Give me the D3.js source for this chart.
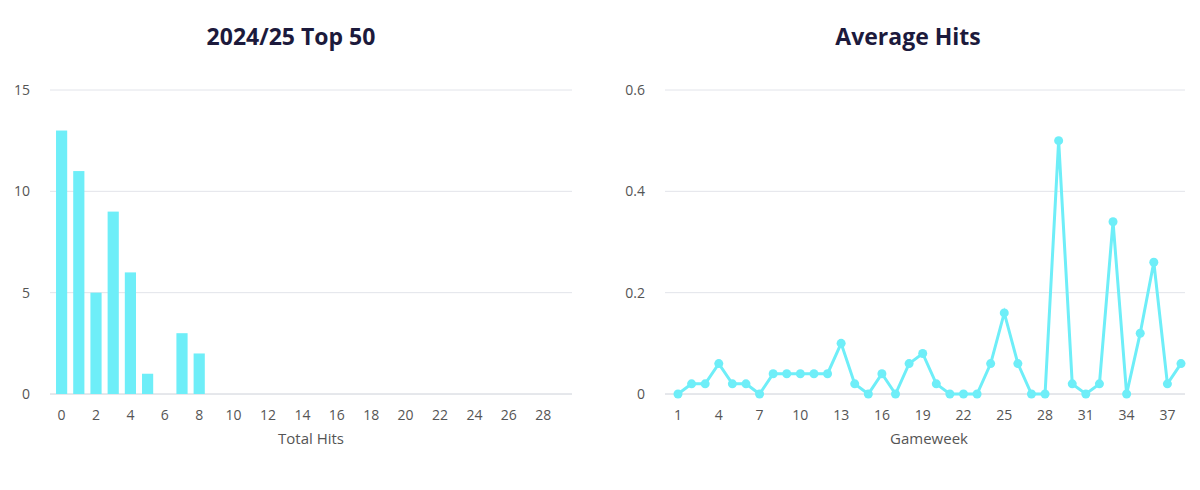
<!DOCTYPE html>
<html><head><meta charset="utf-8">
<script src="https://cdn.jsdelivr.net/npm/d3@7"></script>
<style>body{margin:0;background:#fff;font-family:"Open Sans",sans-serif}</style>
</head><body>
<svg id="c" width="1200" height="490"></svg>
<script>
// total hits histogram (count of managers per hit total)
const hitTotals = d3.range(0, 30);
const managerCounts = [13, 11, 5, 9, 6, 1, 0, 3, 2, 0, 0, 0, 0, 0, 0, 0, 0, 0, 0, 0, 0, 0, 0, 0, 0, 0, 0, 0, 0, 0];
const gameweeks = d3.range(1, 39);
const avgHits = [0, 0.02, 0.02, 0.06, 0.02, 0.02, 0, 0.04, 0.04, 0.04, 0.04, 0.04, 0.1, 0.02, 0, 0.04, 0, 0.06, 0.08, 0.02,
  0, 0, 0, 0.06, 0.16, 0.06, 0, 0, 0.5, 0.02, 0, 0.02, 0.34, 0, 0.12, 0.26, 0.02, 0.06];

const svg = d3.select("#c");
const col = "#6eeef8", grid = "#e2e4ea", txt = "#555", title = "#1c1a3c";

function frame(g, y, ticks, fmt) {
  g.append("g").selectAll("line").data(ticks).join("line")
    .attr("x1", 0).attr("x2", w => 0).attr("class", "g");
}

// left chart
const x1 = d3.scaleBand().domain(hitTotals).range([50, 572]).padding(0.35);
const y1 = d3.scaleLinear().domain([0, 15]).range([394, 90]);
const x2 = d3.scalePoint().domain(gameweeks).range([678, 1181]);
const y2 = d3.scaleLinear().domain([0, 0.6]).range([394, 90]);

function axes(x0, x1r, y, ticks, fmt) {
  const g = svg.append("g");
  g.selectAll("line").data(ticks).join("line")
    .attr("x1", x0).attr("x2", x1r).attr("y1", d => y(d)).attr("y2", d => y(d))
    .attr("stroke", d => d === 0 ? "#ccd0d8" : grid);
  g.selectAll("text").data(ticks).join("text")
    .attr("x", x0 - 20).attr("y", d => y(d) + 5).attr("text-anchor", "end")
    .attr("font-size", 14).attr("fill", txt).text(fmt);
}
axes(50, 572, y1, [0, 5, 10, 15], d => d);
axes(665, 1185, y2, [0, 0.2, 0.4, 0.6], d => d === 0 ? "0" : d);

svg.append("g").selectAll("rect").data(hitTotals).join("rect")
  .attr("x", d => x1(d)).attr("width", x1.bandwidth())
  .attr("y", (d, i) => y1(managerCounts[i])).attr("height", (d, i) => 394 - y1(managerCounts[i]))
  .attr("fill", col);

svg.append("g").selectAll("text").data(hitTotals.filter(d => d % 2 === 0)).join("text")
  .attr("x", d => x1(d) + x1.bandwidth() / 2).attr("y", 420).attr("text-anchor", "middle")
  .attr("font-size", 14).attr("fill", txt).text(d => d);

svg.append("g").selectAll("text").data(gameweeks.filter(d => (d - 1) % 3 === 0)).join("text")
  .attr("x", d => x2(d)).attr("y", 420).attr("text-anchor", "middle")
  .attr("font-size", 14).attr("fill", txt).text(d => d);

const pts = gameweeks.map((g, i) => [x2(g), y2(avgHits[i])]);
svg.append("path").attr("d", d3.line()(pts)).attr("fill", "none").attr("stroke", col).attr("stroke-width", 3);
svg.append("g").selectAll("circle").data(pts).join("circle")
  .attr("cx", d => d[0]).attr("cy", d => d[1]).attr("r", 4.5).attr("fill", col);

svg.append("text").attr("x", 311).attr("y", 444).attr("text-anchor", "middle")
  .attr("font-size", 15).attr("fill", txt).text("Total Hits");
svg.append("text").attr("x", 929).attr("y", 444).attr("text-anchor", "middle")
  .attr("font-size", 15).attr("fill", txt).text("Gameweek");

svg.append("text").attr("x", 291).attr("y", 45).attr("text-anchor", "middle")
  .attr("font-size", 23).attr("font-weight", "bold").attr("fill", title).text("2024/25 Top 50");
svg.append("text").attr("x", 908).attr("y", 45).attr("text-anchor", "middle")
  .attr("font-size", 23).attr("font-weight", "bold").attr("fill", title).text("Average Hits");
</script>
</body></html>
